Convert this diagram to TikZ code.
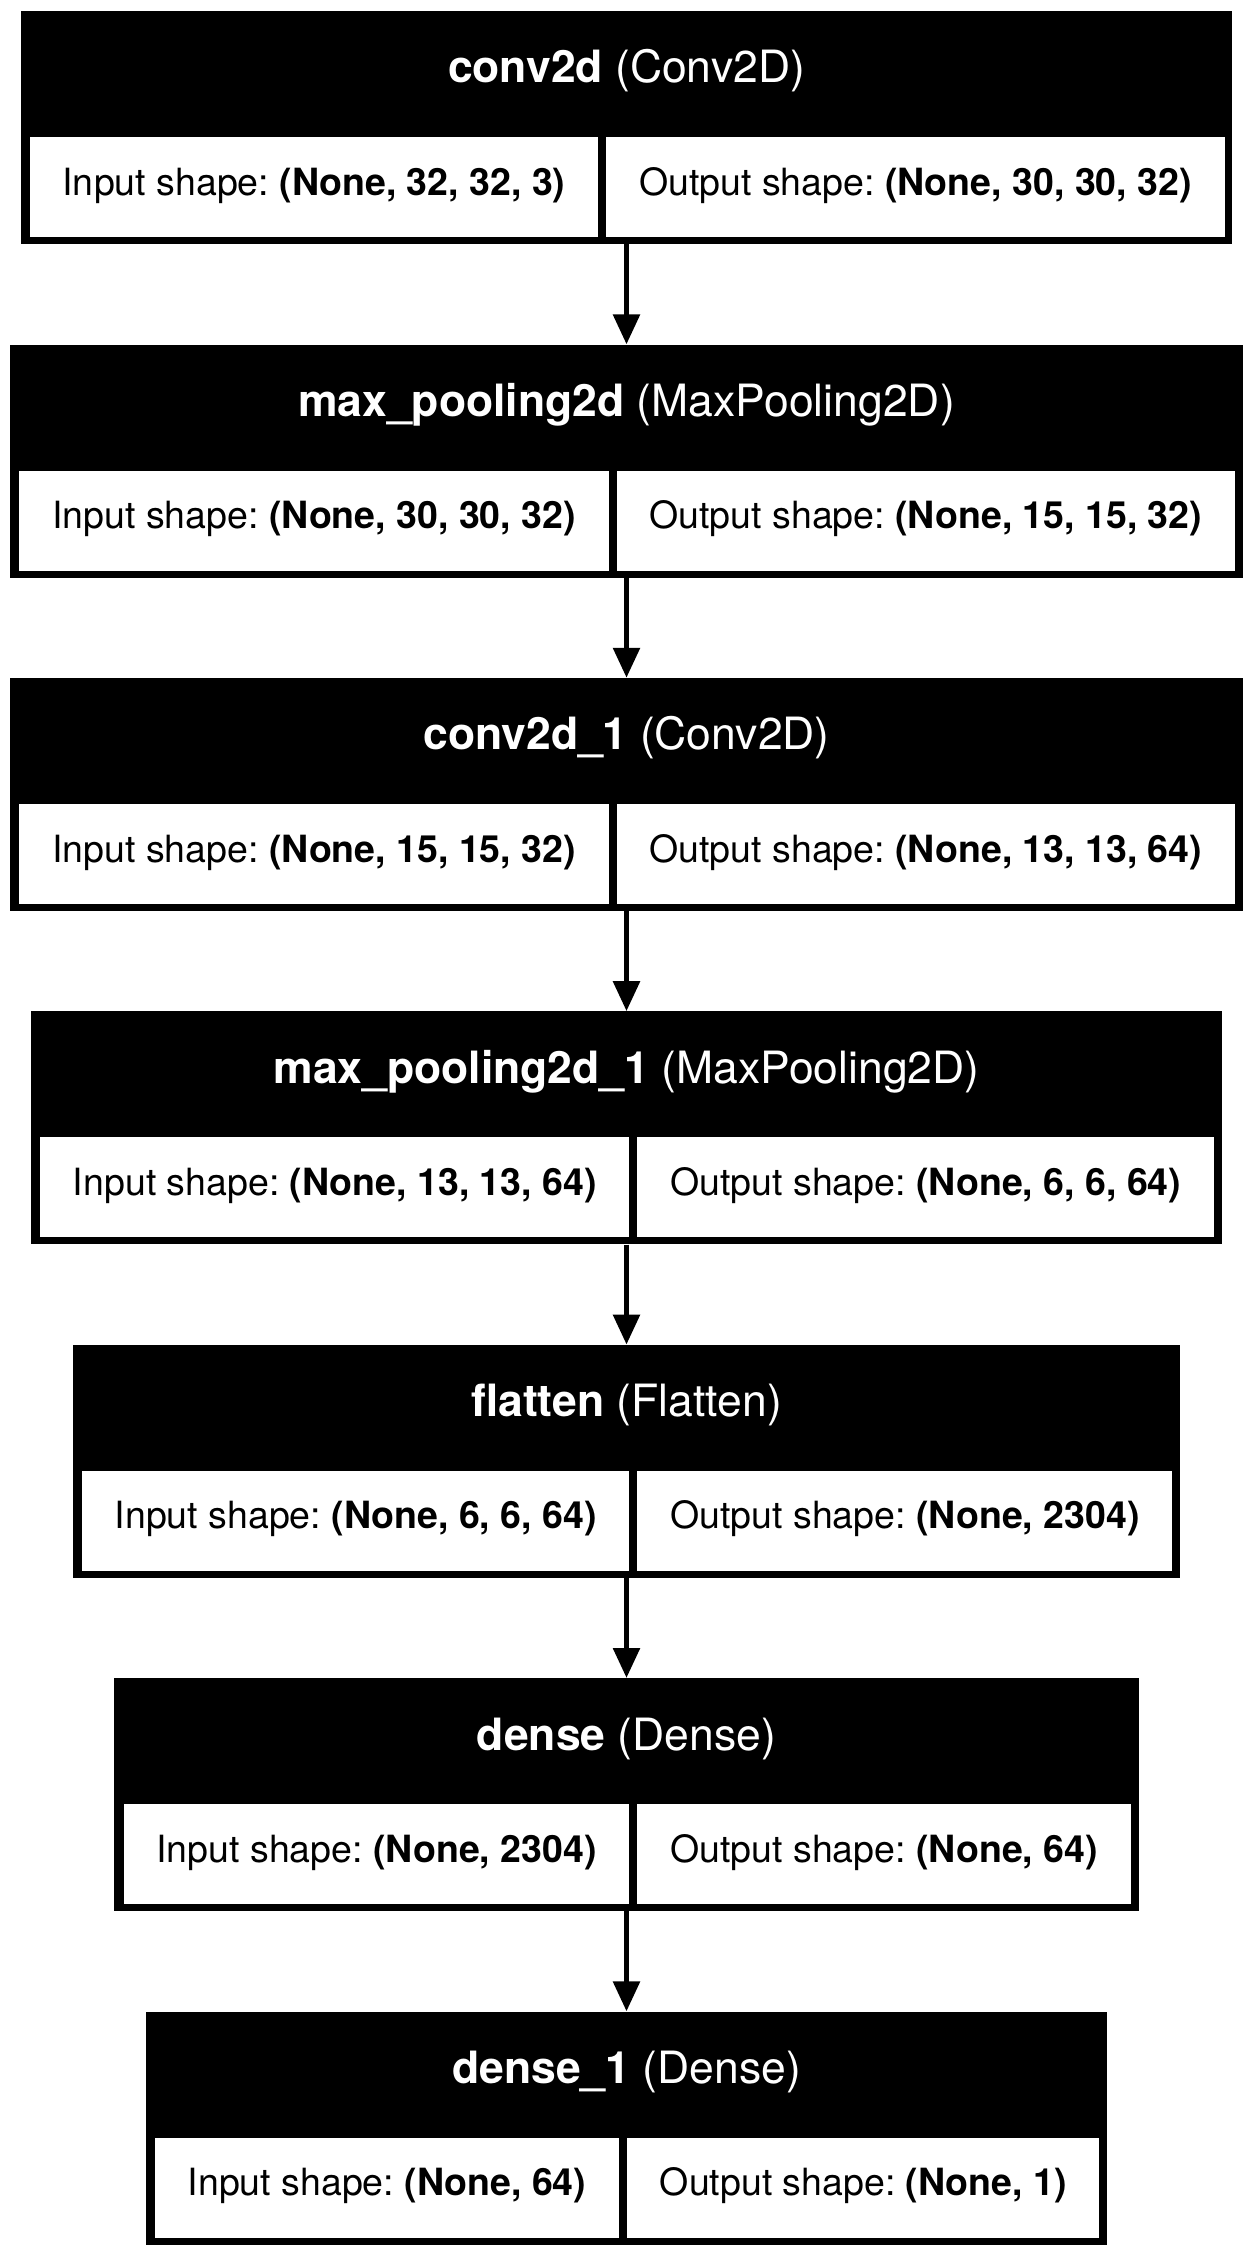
\documentclass[tikz,border=0pt]{standalone}
\usepackage{fontspec}
\setmainfont{TeX Gyre Heros}
\usetikzlibrary{arrows.meta}
\frenchspacing
\newcommand\cellfont{\fontsize{37.5}{40}\selectfont}
\newcommand\headfont{\fontsize{44.5}{48}\selectfont}
\tikzset{
  outerbox/.style={fill=black, draw=none, inner sep=0pt, rectangle},
  headtext/.style={text=white, inner sep=0pt, font=\headfont},
  cellbox/.style={fill=white, draw=none, inner sep=0pt, minimum height=100pt,
    text height=24pt, text depth=8pt, font=\cellfont, text=black},
  conn/.style={line width=5.6pt, draw=black, -{Triangle[width=26pt,length=30pt]}}
}
% #1 top, #2 left cell width, #3 right cell width, #4 name, #5 header, #6 left text, #7 right text
\newcommand\kbox[7]{%
  \pgfmathsetmacro\kW{#2+#3+25}%
  \pgfmathsetmacro\kL{626.5-\kW/2}%
  \node[outerbox, minimum width=\kW pt, minimum height=233pt, anchor=north] (#4) at (626.5,#1) {};
  \node[headtext, anchor=base] (#4-h) at (626.5,#1+72) {#5};
  \node[cellbox, minimum width=#2 pt, anchor=north west] (#4-in) at (\kL+9,#1+126) {#6};
  \node[cellbox, minimum width=#3 pt, anchor=north west] (#4-out) at (\kL+17+#2,#1+126) {#7};
}
\begin{document}
\begin{tikzpicture}[x=1pt,y=-1pt]
\useasboundingbox (0,0) rectangle (1253,2256);
\fill[white] (0,0) rectangle (1253,2256);
\kbox{11}{568.4}{618.4}{b1}{\textbf{conv2d} (Conv2D)}{Input shape: \textbf{(None, 32, 32, 3)}}{Output shape: \textbf{(None, 30, 30, 32)}}
\kbox{344.4}{589.2}{618.4}{b2}{\textbf{max\_pooling2d} (MaxPooling2D)}{Input shape: \textbf{(None, 30, 30, 32)}}{Output shape: \textbf{(None, 15, 15, 32)}}
\kbox{677.8}{589.2}{618.4}{b3}{\textbf{conv2d\_1} (Conv2D)}{Input shape: \textbf{(None, 15, 15, 32)}}{Output shape: \textbf{(None, 13, 13, 64)}}
\kbox{1011.2}{589.2}{576.7}{b4}{\textbf{max\_pooling2d\_1} (MaxPooling2D)}{Input shape: \textbf{(None, 13, 13, 64)}}{Output shape: \textbf{(None, 6, 6, 64)}}
\kbox{1344.6}{547.5}{535.0}{b5}{\textbf{flatten} (Flatten)}{Input shape: \textbf{(None, 6, 6, 64)}}{Output shape: \textbf{(None, 2304)}}
\kbox{1678}{505.8}{493.3}{b6}{\textbf{dense} (Dense)}{Input shape: \textbf{(None, 2304)}}{Output shape: \textbf{(None, 64)}}
\kbox{2011.4}{464.1}{472.4}{b7}{\textbf{dense\_1} (Dense)}{Input shape: \textbf{(None, 64)}}{Output shape: \textbf{(None, 1)}}
\draw[conn] (b1.south) -- (b2.north);
\draw[conn] (b2.south) -- (b3.north);
\draw[conn] (b3.south) -- (b4.north);
\draw[conn] (b4.south) -- (b5.north);
\draw[conn] (b5.south) -- (b6.north);
\draw[conn] (b6.south) -- (b7.north);
\end{tikzpicture}
\end{document}
